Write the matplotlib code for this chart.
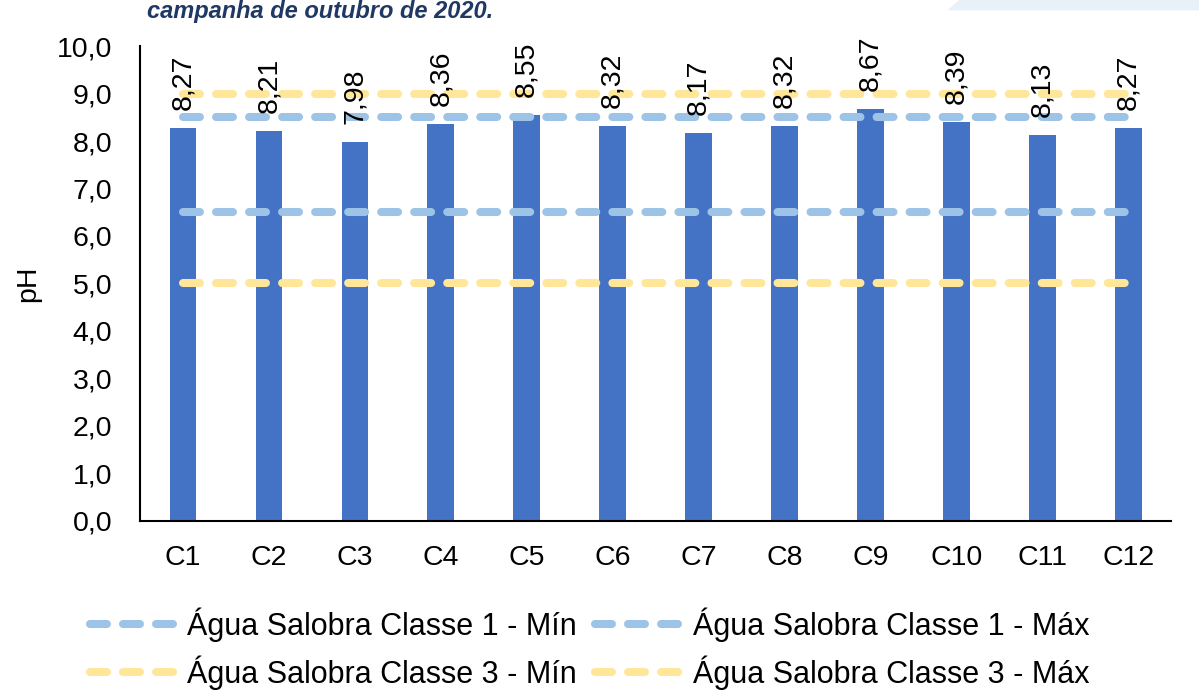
import matplotlib.pyplot as plt
from matplotlib.patches import Polygon
import numpy as np

# data
stations = ["C1", "C2", "C3", "C4", "C5", "C6", "C7", "C8", "C9", "C10", "C11", "C12"]
ph_values = [8.27, 8.21, 7.98, 8.36, 8.55, 8.32, 8.17, 8.32, 8.67, 8.39, 8.13, 8.27]
limit_names = ["Água Salobra Classe 1 - Mín", "Água Salobra Classe 1 - Máx",
               "Água Salobra Classe 3 - Mín", "Água Salobra Classe 3 - Máx"]
limit_values = [6.5, 8.5, 5.0, 9.0]
limit_colors = ["#9DC3E6", "#9DC3E6", "#FFE699", "#FFE699"]

plt.rcParams['font.family'] = ['Liberation Sans', 'DejaVu Sans']
FS = 20.5

fig = plt.figure(figsize=(11.99, 6.95), dpi=100)
ax = fig.add_axes([0.1168, 0.2504, 0.86, 0.6834])

x = np.arange(len(stations))
ax.bar(x, ph_values, width=0.31, color="#4472C4", zorder=2)

handles = []
for name, val, col in zip(limit_names, limit_values, limit_colors):
    h, = ax.plot([x[0], x[-1]], [val, val], color=col, lw=5.8, dashes=(2.1, 2.0),
                 dash_capstyle="round", solid_capstyle="round", label=name, zorder=3)
    handles.append(h)

for xi, v in zip(x, ph_values):
    ax.annotate(f"{v:.2f}".replace(".", ","), (xi, v), xytext=(0, 13),
                textcoords="offset points", rotation=90, ha="center", va="bottom",
                fontsize=FS, zorder=4)

ax.set_xlim(-0.5, len(stations) - 0.5)
ax.set_ylim(0, 10)
ticks = np.arange(0, 10.5, 1)
ax.set_yticks(ticks)
ax.set_yticklabels([f"{t:.1f}".replace(".", ",") for t in ticks])
ax.set_xticks(x)
ax.set_xticklabels(stations)
ax.tick_params(axis="y", labelsize=FS, length=0, pad=20)
ax.tick_params(axis="x", labelsize=FS, length=0, pad=17)
ax.set_ylabel("pH", fontsize=FS, labelpad=11)
for s in ["top", "right"]:
    ax.spines[s].set_visible(False)
ax.spines["left"].set_linewidth(1.5)
ax.spines["bottom"].set_linewidth(1.5)

# column-wise fill: row 1 = Classe 1, row 2 = Classe 3
order = [0, 2, 1, 3]
fig.legend([handles[i] for i in order], [limit_names[i] for i in order],
           loc="upper left", bbox_to_anchor=(0.062, 0.148), ncol=2,
           frameon=False, fontsize=22, handlelength=2.95, handletextpad=0.25,
           columnspacing=0.6, labelspacing=0.45, borderpad=0)

# heading above the chart and decoration at the top
fig.text(0.123, 1.0, "campanha de outubro de 2020.", color="#1F3864", fontsize=17,
         fontweight="bold", style="italic", va="top", ha="left")
fig.add_artist(Polygon([[0.79, 0.985], [0.8, 1.0], [1.0, 1.0], [1.0, 0.985]],
                       closed=True, transform=fig.transFigure, color="#E8F0F8", lw=0))

fig.savefig("out.png", dpi=100)
